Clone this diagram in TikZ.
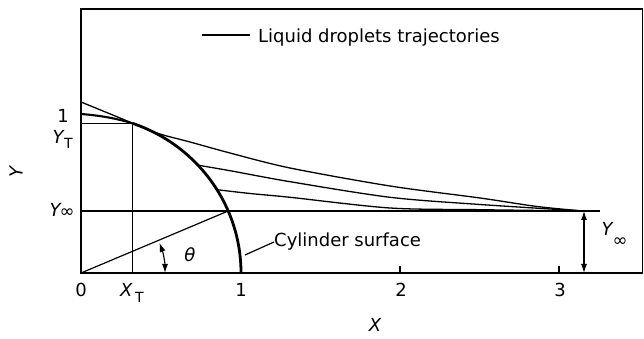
\documentclass[tikz,border=0pt]{standalone}
\usepackage{fontspec}
\setmainfont{DejaVu Sans}
\usetikzlibrary{arrows.meta}
\begin{document}
\begin{tikzpicture}[x=1pt,y=1pt,
  lbl/.style={font=\fontsize{18}{21}\selectfont, inner sep=0pt},
  ilbl/.style={font=\fontsize{18}{21}\selectfont\itshape, inner sep=0pt},
  subl/.style={font=\fontsize{14}{15}\selectfont, inner sep=0pt},
  frame/.style={line width=1.5pt},
  traj/.style={line width=1.3pt},
  cyl/.style={line width=2.8pt},
  lead/.style={line width=2.1pt},
  thinl/.style={line width=1.2pt},
  dimarrow/.style={line width=1.1pt, {Latex[length=9pt,width=6pt]}-{Latex[length=9pt,width=6pt]}}
]
\useasboundingbox (0,0) rectangle (644,339);
% frame / axes
\coordinate (O) at (81,66);
\coordinate (TL) at (81,330);
\coordinate (BR) at (642.5,66);
\draw[frame] (TL) rectangle (BR);
% key points
\coordinate (T) at (132.3,215.7);
\coordinate (TX) at (132.3,66);
\coordinate (TY) at (81,215.7);
\coordinate (YI) at (81,128);
\coordinate (YIend) at (600,128);
\coordinate (P) at (228.2,128);
\coordinate (Conv) at (584,128);
\coordinate (ConvB) at (584,66);
% ticks
\draw[thinl] (400,66) -- (400,73);
\draw[thinl] (559,66) -- (559,73);
% guide lines
\draw[thinl] (TY) -- (T) -- (TX);
\draw[thinl] (YI) -- (YIend);
\draw[thinl] (O) -- (P);
% cylinder surface
\draw[cyl] (T) arc[start angle=71.3, end angle=0, x radius=160, y radius=158];
% trajectories
\draw[lead] (81,225) .. controls (100,223.5) and (117,220.5) .. (T);
\draw[traj] plot[smooth, tension=0.5] coordinates {(81,237) (120,221) (150,208.5) (165,203.5) (190,197) (230,186) (290,171) (390,153) (480,141) (537,132.5) (583,128)};
\draw[traj] plot[smooth, tension=0.5] coordinates {(198,173.8) (230,168.3) (290,157.3) (390,141.7) (480,134.5) (583,128)};
\draw[traj] plot[smooth, tension=0.5] coordinates {(217,149.3) (250,145.5) (290,141.7) (390,131) (480,129.3) (583,128)};
% dimension arrows
\draw[dimarrow] (Conv) -- (ConvB);
\draw[dimarrow] ([shift={(21:84)}]O) arc[start angle=21, end angle=0, radius=84];
% labels
\node[ilbl] (th) at (190,84) {θ};
\coordinate (LA) at (245,84);
\node[lbl, anchor=west] (cs) at (274,97) {Cylinder surface};
\draw[thinl] (LA) -- (cs.west);
\coordinate (K1) at (202,304);
\coordinate (K2) at (250,304);
\draw[lead] (K1) -- (K2);
\node[lbl, anchor=west] (key) at (258,301.5) {Liquid droplets trajectories};
% x labels
\node[lbl, anchor=base] (x0) at (81,42) {0};
\node[ilbl, anchor=base west] (xt) at (120,42) {X};
\node[subl, anchor=base west] (xts) at (135,36) {T};
\node[lbl, anchor=base] (x1) at (241,42) {1};
\node[lbl, anchor=base] (x2) at (401,42) {2};
\node[lbl, anchor=base] (x3) at (560,42) {3};
\node[ilbl] (xl) at (375,14) {X};
% y labels
\node[ilbl, rotate=90] (yl) at (16,167) {Y};
\node[lbl] (y1) at (63,223) {1};
\node[ilbl] (yt) at (58,202) {Y};
\node[subl] (yts) at (68.5,196) {T};
\node[ilbl] (yi) at (55,129) {Y};
\node[lbl] (yis) at (67,126) {∞};
\node[ilbl] (yr) at (607,110) {Y};
\node[lbl] (yrs) at (620,97) {∞};
\end{tikzpicture}
\end{document}
